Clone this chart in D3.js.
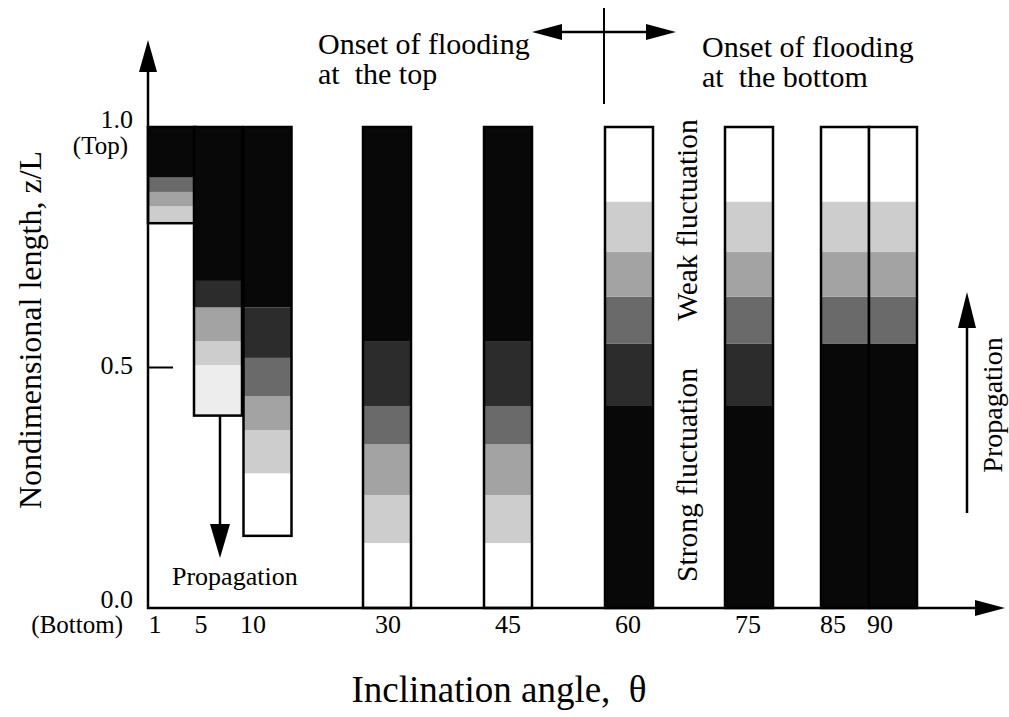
<!DOCTYPE html>
<html>
<head>
<meta charset="utf-8">
<script src="https://cdn.jsdelivr.net/npm/d3@7/dist/d3.min.js"></script>
<style>
  html, body { margin: 0; padding: 0; background: #fff; }
  svg { display: block; }
  text { font-family: "Liberation Serif", "Times New Roman", serif; fill: #000; }
</style>
</head>
<body>
<svg id="chart" width="1009" height="717"></svg>
<script>
// Inclination angles (degrees) and their tick labels
const angles = [1, 5, 10, 30, 45, 60, 75, 85, 90];
const tickLabels = ["1", "5", "10", "30", "45", "60", "75", "85", "90"];

// Shade index 0 (no fluctuation) .. 6 (strongest fluctuation)
const shadeColors = ["#ffffff", "#ededed", "#cdcdcd", "#a3a3a3", "#6a6a6a", "#2c2c2c", "#080808"];

// Bands along each tube: [z/L from, z/L to, shade]
const bands1  = [[0.80, 0.835, 2], [0.835, 0.865, 3], [0.865, 0.895, 4], [0.895, 1.0, 6]];
const bands5  = [[0.40, 0.505, 1], [0.505, 0.555, 2], [0.555, 0.625, 3], [0.625, 0.68, 5], [0.68, 1.0, 6]];
const bands10 = [[0.15, 0.28, 0], [0.28, 0.37, 2], [0.37, 0.44, 3], [0.44, 0.52, 4], [0.52, 0.625, 5], [0.625, 1.0, 6]];
const bands30 = [[0.0, 0.135, 0], [0.135, 0.235, 2], [0.235, 0.34, 3], [0.34, 0.42, 4], [0.42, 0.555, 5], [0.555, 1.0, 6]];
const bands45 = [[0.0, 0.135, 0], [0.135, 0.235, 2], [0.235, 0.34, 3], [0.34, 0.42, 4], [0.42, 0.555, 5], [0.555, 1.0, 6]];
const bands60 = [[0.0, 0.42, 6], [0.42, 0.55, 5], [0.55, 0.647, 4], [0.647, 0.74, 3], [0.74, 0.845, 2], [0.845, 1.0, 0]];
const bands75 = [[0.0, 0.42, 6], [0.42, 0.55, 5], [0.55, 0.647, 4], [0.647, 0.74, 3], [0.74, 0.845, 2], [0.845, 1.0, 0]];
const bands85 = [[0.0, 0.55, 6], [0.55, 0.647, 4], [0.647, 0.74, 3], [0.74, 0.845, 2], [0.845, 1.0, 0]];
const bands90 = [[0.0, 0.55, 6], [0.55, 0.647, 4], [0.647, 0.74, 3], [0.74, 0.845, 2], [0.845, 1.0, 0]];
const barBands = [bands1, bands5, bands10, bands30, bands45, bands60, bands75, bands85, bands90];

// Y axis ticks
const yTickValues = [0.0, 0.5, 1.0];
const yTickLabels = ["0.0", "0.5", "1.0"];
const yTickNotes = ["(Bottom)", "", "(Top)"];

const svg = d3.select("#chart");

const x0 = 148, yBase = 608;
const y = d3.scaleLinear().domain([0, 1]).range([yBase, 127]);

// Tubes are packed side by side at small and near-vertical angles,
// so the angle axis uses a piecewise layout.
const xBar = d3.scaleLinear().domain(angles)
  .range([172, 218, 267.5, 387, 508, 629, 749, 845, 893]);
const xTick = d3.scaleLinear().domain(angles)
  .range([155, 201, 253, 388, 508, 628, 748, 833, 880]);
const bw = 48;

const shade = d3.scaleOrdinal().domain(d3.range(shadeColors.length)).range(shadeColors);

// Tubes
const tubes = svg.append("g").selectAll("g")
  .data(angles.map((a, i) => ({ angle: a, bands: barBands[i] })))
  .join("g");

tubes.selectAll("rect.band")
  .data(d => d.bands.map(b => ({ angle: d.angle, from: b[0], to: b[1], s: b[2] })))
  .join("rect")
  .attr("class", "band")
  .attr("x", d => xBar(d.angle) - bw / 2)
  .attr("y", d => y(d.to))
  .attr("width", bw)
  .attr("height", d => y(d.from) - y(d.to))
  .attr("fill", d => shade(d.s));

tubes.append("rect")
  .attr("x", d => xBar(d.angle) - bw / 2)
  .attr("y", d => y(d3.max(d.bands, b => b[1])))
  .attr("width", bw)
  .attr("height", d => y(d3.min(d.bands, b => b[0])) - y(d3.max(d.bands, b => b[1])))
  .attr("fill", "none")
  .attr("stroke", "#000")
  .attr("stroke-width", 2.5);

// Arrow helper: shaft plus filled head
function arrow(g, x1, y1, x2, y2, headLen, headHalf, sw) {
  const dx = x2 - x1, dy = y2 - y1, L = Math.hypot(dx, dy);
  const ux = dx / L, uy = dy / L;
  const bx = x2 - ux * headLen, by = y2 - uy * headLen;
  g.append("line").attr("x1", x1).attr("y1", y1).attr("x2", bx + ux * 2).attr("y2", by + uy * 2)
    .attr("stroke", "#000").attr("stroke-width", sw);
  g.append("path")
    .attr("d", `M${x2},${y2}L${bx - uy * headHalf},${by + ux * headHalf}L${bx + uy * headHalf},${by - ux * headHalf}Z`)
    .attr("fill", "#000");
}

// Axes
const axes = svg.append("g");
arrow(axes, x0, yBase + 1, x0, 40, 32, 9, 2.5);
arrow(axes, x0 - 1, yBase, 1005, yBase, 30, 8, 2.5);

// Y ticks and labels
axes.selectAll("line.ytick")
  .data(yTickValues.filter(v => v > 0 && v < 1))
  .join("line")
  .attr("class", "ytick")
  .attr("x1", x0).attr("x2", x0 + 25)
  .attr("y1", d => y(d)).attr("y2", d => y(d))
  .attr("stroke", "#000").attr("stroke-width", 2);

axes.selectAll("text.ylab")
  .data(yTickValues)
  .join("text")
  .attr("class", "ylab")
  .attr("x", 133)
  .attr("y", d => y(d) + (d === 0 ? 0 : d === 1 ? 1 : 6))
  .attr("text-anchor", "end")
  .style("font-size", "26px")
  .text((d, i) => yTickLabels[i]);

axes.selectAll("text.ynote")
  .data(yTickValues.filter((v, i) => yTickNotes[i] !== ""))
  .join("text")
  .attr("class", "ynote")
  .attr("x", d => d === 0 ? 123 : 128)
  .attr("y", d => y(d) + (d === 0 ? 25 : 27))
  .attr("text-anchor", "end")
  .style("font-size", "25px")
  .text(d => yTickNotes[yTickValues.indexOf(d)]);

// X tick labels
axes.selectAll("text.xlab")
  .data(angles)
  .join("text")
  .attr("class", "xlab")
  .attr("x", d => xTick(d))
  .attr("y", yBase + 25)
  .attr("text-anchor", "middle")
  .style("font-size", "26px")
  .text((d, i) => tickLabels[i]);

// Axis titles
svg.append("text")
  .attr("transform", "translate(41,330) rotate(-90)")
  .attr("text-anchor", "middle")
  .style("font-size", "32px")
  .text("Nondimensional length, z/L");

svg.append("text")
  .attr("x", 499).attr("y", 702)
  .attr("text-anchor", "middle")
  .style("font-size", "37px")
  .attr("xml:space", "preserve")
  .text("Inclination angle,  θ");

// Annotations
const notes = svg.append("g");
notes.append("text").attr("x", 318).attr("y", 54).style("font-size", "30px").text("Onset of flooding");
notes.append("text").attr("x", 318).attr("y", 84).style("font-size", "30px").attr("xml:space", "preserve").text("at  the top");
notes.append("text").attr("x", 702).attr("y", 57).style("font-size", "30px").text("Onset of flooding");
notes.append("text").attr("x", 702).attr("y", 87).style("font-size", "30px").attr("xml:space", "preserve").text("at  the bottom");

notes.append("line").attr("x1", 604).attr("x2", 604).attr("y1", 8).attr("y2", 104)
  .attr("stroke", "#000").attr("stroke-width", 2);
arrow(notes, 604, 32, 532, 32, 30, 8, 2.5);
arrow(notes, 604, 32, 676, 32, 30, 8, 2.5);

// Propagation direction (small angles: downward)
arrow(notes, xBar(5) + 2, y(0.40), xBar(5) + 2, 558, 34, 10, 2.5);
notes.append("text").attr("x", 172).attr("y", 585).style("font-size", "26px").text("Propagation");

// Propagation direction (large angles: upward)
arrow(notes, 967, 513, 967, 292, 36, 9, 2.5);
notes.append("text")
  .attr("transform", "translate(1002,405) rotate(-90)")
  .attr("text-anchor", "middle")
  .style("font-size", "28px")
  .text("Propagation");

// Fluctuation regimes
notes.append("text")
  .attr("transform", "translate(697,220) rotate(-90)")
  .attr("text-anchor", "middle")
  .style("font-size", "29.5px")
  .text("Weak fluctuation");
notes.append("text")
  .attr("transform", "translate(697,475) rotate(-90)")
  .attr("text-anchor", "middle")
  .style("font-size", "29.5px")
  .text("Strong fluctuation");
</script>
</body>
</html>
